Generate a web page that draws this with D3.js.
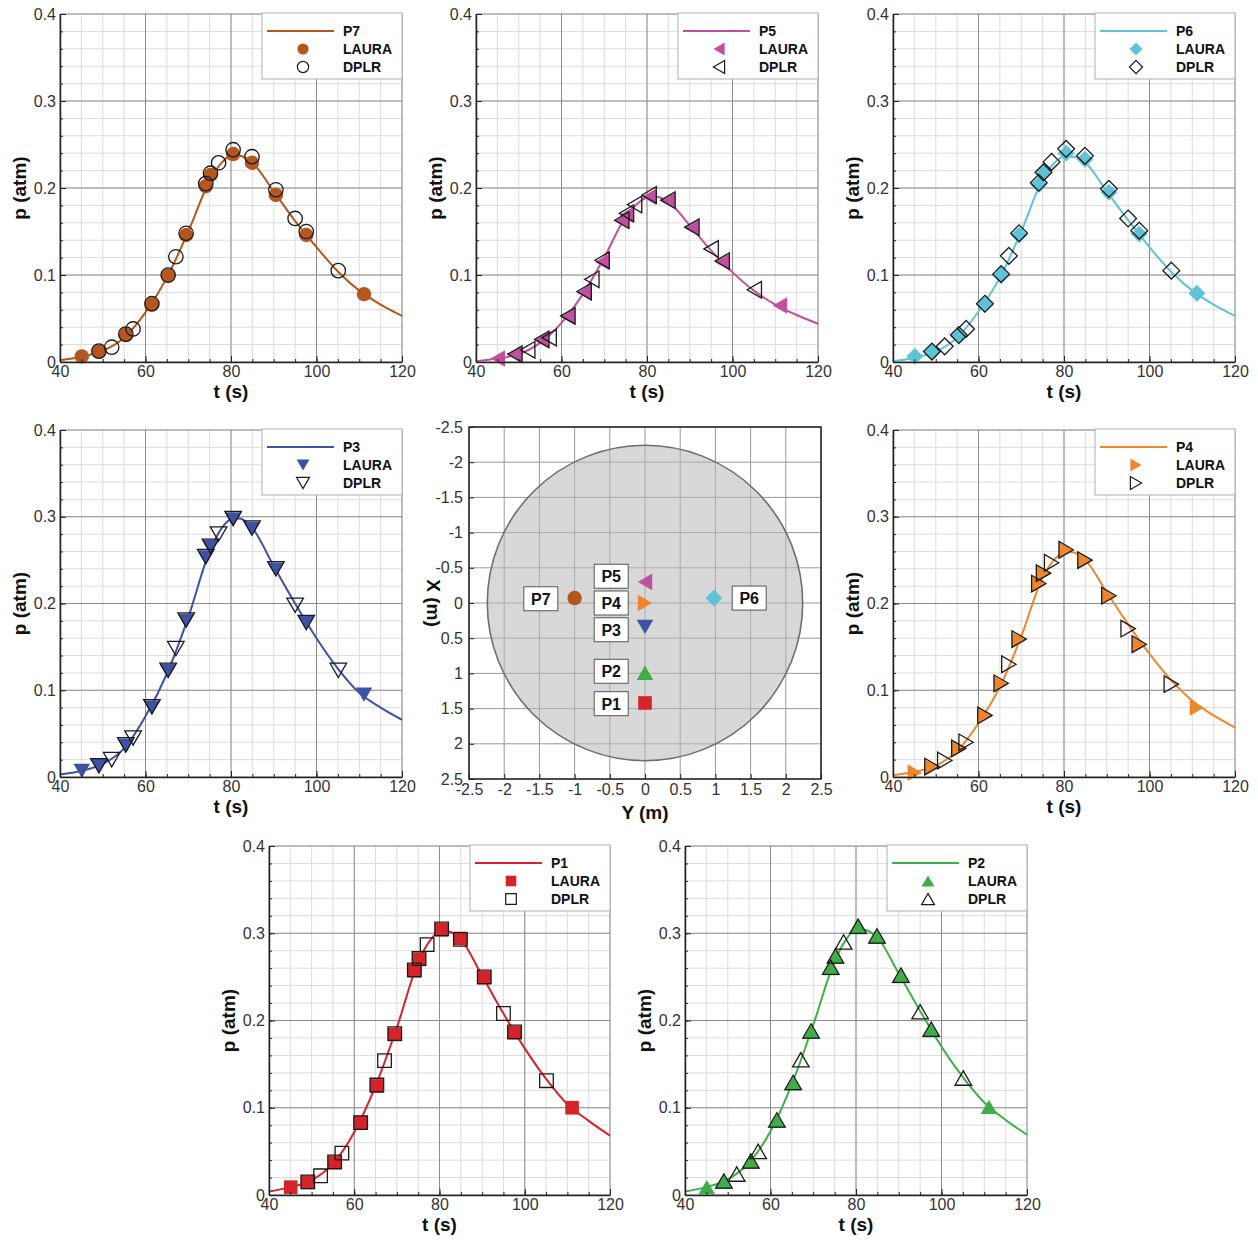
<!DOCTYPE html>
<html><head><meta charset="utf-8">
<script src="https://cdn.jsdelivr.net/npm/d3@7"></script>
<style>
body{margin:0;background:#fff;}
svg{display:block;font-family:"Liberation Sans",Arial,Helvetica,sans-serif;}
</style></head>
<body>
<svg id="chart" width="1258" height="1243"></svg>
<script>
// ---------------- DATA ----------------
const tTicks = [40, 60, 80, 100, 120];
const pTicks = [0, 0.1, 0.2, 0.3, 0.4];
const mapTicks = [-2.5, -2, -1.5, -1, -0.5, 0, 0.5, 1, 1.5, 2, 2.5];

const lineT = [40, 45, 50, 55, 60, 65, 70, 75, 78, 80, 82, 85, 90, 95, 100, 105, 110, 115, 120];
const lineP7 = [0.002, 0.006, 0.013, 0.028, 0.057, 0.097, 0.150, 0.208, 0.230, 0.237, 0.237, 0.229, 0.196, 0.162, 0.132, 0.104, 0.082, 0.066, 0.053];
const lineP5 = [0.001, 0.004, 0.009, 0.022, 0.045, 0.078, 0.120, 0.167, 0.183, 0.189, 0.190, 0.184, 0.157, 0.128, 0.103, 0.082, 0.066, 0.054, 0.044];
const lineP6 = [0.001, 0.005, 0.012, 0.028, 0.058, 0.097, 0.150, 0.210, 0.230, 0.236, 0.236, 0.229, 0.196, 0.163, 0.132, 0.104, 0.082, 0.066, 0.053];
const lineP3 = [0.003, 0.007, 0.015, 0.033, 0.070, 0.119, 0.184, 0.260, 0.288, 0.297, 0.298, 0.287, 0.243, 0.200, 0.160, 0.125, 0.097, 0.080, 0.066];
const lineP4 = [0.002, 0.006, 0.013, 0.030, 0.062, 0.104, 0.162, 0.230, 0.252, 0.259, 0.259, 0.250, 0.213, 0.176, 0.142, 0.112, 0.088, 0.071, 0.057];
const lineP1 = [0.004, 0.009, 0.017, 0.036, 0.072, 0.125, 0.192, 0.267, 0.293, 0.302, 0.302, 0.293, 0.251, 0.208, 0.168, 0.133, 0.104, 0.085, 0.068];
const lineP2 = [0.004, 0.009, 0.018, 0.037, 0.073, 0.127, 0.195, 0.268, 0.295, 0.305, 0.304, 0.295, 0.254, 0.211, 0.170, 0.135, 0.106, 0.086, 0.069];

const lauraT = [45.1, 49.1, 55.4, 61.5, 65.3, 69.5, 74.1, 75.2, 80.5, 84.9, 90.5, 97.6, 111.1];
const lauraP7 = [0.0065, 0.012, 0.031, 0.066, 0.099, 0.146, 0.202, 0.215, 0.239, 0.229, 0.192, 0.146, 0.078];
const lauraP5 = [0.004, 0.0085, 0.025, 0.052, 0.080, 0.115, 0.162, 0.169, 0.190, 0.185, 0.154, 0.115, 0.065];
const lauraP6 = [0.0065, 0.0115, 0.030, 0.066, 0.100, 0.146, 0.204, 0.217, 0.240, 0.233, 0.195, 0.147, 0.079];
const lauraP3 = [0.007, 0.013, 0.036, 0.080, 0.122, 0.180, 0.253, 0.265, 0.297, 0.286, 0.239, 0.178, 0.095];
const lauraP4 = [0.005, 0.011, 0.032, 0.070, 0.107, 0.158, 0.222, 0.234, 0.261, 0.249, 0.208, 0.152, 0.080];
const lauraP1 = [0.009, 0.0145, 0.037, 0.083, 0.125, 0.184, 0.257, 0.270, 0.304, 0.294, 0.249, 0.186, 0.100];
const lauraP2 = [0.009, 0.015, 0.038, 0.085, 0.128, 0.187, 0.260, 0.273, 0.307, 0.296, 0.251, 0.189, 0.101];

const dplrT = [49.1, 52.1, 55.4, 57.1, 61.5, 65.3, 67.1, 69.5, 74.1, 75.2, 77.1, 80.5, 84.9, 90.5, 95.0, 97.6, 105.1];
const dplrP7 = [0.0125, 0.017, 0.032, 0.038, 0.067, 0.100, 0.121, 0.148, 0.205, 0.217, 0.229, 0.244, 0.236, 0.198, 0.165, 0.150, 0.105];
const dplrP5 = [0.009, 0.014, 0.026, 0.028, 0.053, 0.081, 0.095, 0.117, 0.163, 0.171, 0.181, 0.192, 0.186, 0.155, 0.130, 0.116, 0.083];
const dplrP6 = [0.012, 0.018, 0.031, 0.038, 0.067, 0.101, 0.122, 0.148, 0.206, 0.218, 0.230, 0.245, 0.237, 0.199, 0.165, 0.151, 0.105];
const dplrP3 = [0.013, 0.020, 0.037, 0.045, 0.081, 0.123, 0.148, 0.181, 0.254, 0.266, 0.280, 0.298, 0.287, 0.240, 0.198, 0.178, 0.123];
const dplrP4 = [0.012, 0.019, 0.033, 0.040, 0.071, 0.108, 0.130, 0.159, 0.223, 0.235, 0.247, 0.262, 0.250, 0.209, 0.171, 0.153, 0.107];
const dplrP1 = [0.015, 0.022, 0.038, 0.048, 0.083, 0.126, 0.154, 0.185, 0.258, 0.271, 0.287, 0.305, 0.293, 0.250, 0.208, 0.187, 0.131];
const dplrP2 = [0.016, 0.024, 0.039, 0.050, 0.086, 0.129, 0.155, 0.188, 0.261, 0.274, 0.290, 0.308, 0.297, 0.252, 0.210, 0.190, 0.134];

// sensor map (data units, metres)
const sensorNames = ["P1", "P2", "P3", "P4", "P5", "P6", "P7"];
const sensorY = [0, 0, 0, 0, 0, 0.98, -1];
const sensorX = [1.42, 0.99, 0.34, 0, -0.30, -0.07, -0.07];
const labelY = [-0.48, -0.48, -0.48, -0.48, -0.48, 1.48, -1.48];
const labelX = [1.43, 0.97, 0.38, 0, -0.38, -0.07, -0.06];
const bodyRadius = 2.24;

// ---------------- STYLE / LAYOUT ----------------
const colors = {P1:"#d4232a", P2:"#3fae49", P3:"#3f51a3", P4:"#f0862a", P5:"#c0509f", P6:"#5ec3d6", P7:"#b5561f"};
const shapes = {P1:"square", P2:"triUp", P3:"triDown", P4:"triRight", P5:"triLeft", P6:"diamond", P7:"circle"};
const series = {
  P1:{line:lineP1, laura:lauraP1, dplr:dplrP1},
  P2:{line:lineP2, laura:lauraP2, dplr:dplrP2},
  P3:{line:lineP3, laura:lauraP3, dplr:dplrP3},
  P4:{line:lineP4, laura:lauraP4, dplr:dplrP4},
  P5:{line:lineP5, laura:lauraP5, dplr:dplrP5},
  P6:{line:lineP6, laura:lauraP6, dplr:dplrP6},
  P7:{line:lineP7, laura:lauraP7, dplr:dplrP7}
};
const panels = [
  {id:"P7", x0:60,  x1:402,  y0:14,  y1:362},
  {id:"P5", x0:476, x1:818,  y0:14,  y1:362},
  {id:"P6", x0:893, x1:1235, y0:14,  y1:362},
  {id:"P3", x0:60,  x1:402,  y0:430, y1:777},
  {id:"P4", x0:893, x1:1235, y0:430, y1:777},
  {id:"P1", x0:269, x1:610,  y0:846, y1:1195},
  {id:"P2", x0:685, x1:1027, y0:846, y1:1195}
];
const mapBox = {x0:469, x1:821, y0:427, y1:779};

function shapePath(type, s) {
  const a = 2.1 * s, h = a * 0.866;
  switch (type) {
    case "circle": return `M${-s},0A${s},${s} 0 1,0 ${s},0A${s},${s} 0 1,0 ${-s},0Z`;
    case "square": return `M${-s},${-s}H${s}V${s}H${-s}Z`;
    case "diamond": { const d = s * 1.2; return `M0,${-d}L${d},0L0,${d}L${-d},0Z`; }
    case "triUp": return `M0,${-h/2}L${a/2},${h/2}L${-a/2},${h/2}Z`;
    case "triDown": return `M0,${h/2}L${a/2},${-h/2}L${-a/2},${-h/2}Z`;
    case "triLeft": return `M${-h/2},0L${h/2},${-a/2}L${h/2},${a/2}Z`;
    case "triRight": return `M${h/2},0L${-h/2},${-a/2}L${-h/2},${a/2}Z`;
  }
}
function markerSize(type) {
  return ({circle:7.2, square:6.8, diamond:7.0, triUp:7.9, triDown:7.9, triLeft:7.9, triRight:7.9})[type];
}

const svg = d3.select("#chart");
const fmt = v => String(v);

// ---------------- TIME-SERIES PANELS ----------------
panels.forEach(pn => {
  const id = pn.id, col = colors[id], shp = shapes[id], d = series[id];
  const x = d3.scaleLinear().domain([40, 120]).range([pn.x0, pn.x1]);
  const y = d3.scaleLinear().domain([0, 0.4]).range([pn.y1, pn.y0]);
  const g = svg.append("g");

  const minorT = d3.range(40, 120.01, 5);
  const minorP = d3.range(0, 0.4001, 0.02);
  // minor grid
  g.append("g").selectAll("line.mx").data(minorT).join("line")
    .attr("x1", v => x(v)).attr("x2", v => x(v)).attr("y1", pn.y0).attr("y2", pn.y1)
    .attr("stroke", "#dcdcdc").attr("stroke-width", 1);
  g.append("g").selectAll("line.my").data(minorP).join("line")
    .attr("y1", v => y(v)).attr("y2", v => y(v)).attr("x1", pn.x0).attr("x2", pn.x1)
    .attr("stroke", "#dcdcdc").attr("stroke-width", 1);
  // major grid
  g.append("g").selectAll("line").data(tTicks).join("line")
    .attr("x1", v => x(v)).attr("x2", v => x(v)).attr("y1", pn.y0).attr("y2", pn.y1)
    .attr("stroke", "#8c8c8c").attr("stroke-width", 1);
  g.append("g").selectAll("line").data(pTicks).join("line")
    .attr("y1", v => y(v)).attr("y2", v => y(v)).attr("x1", pn.x0).attr("x2", pn.x1)
    .attr("stroke", "#8c8c8c").attr("stroke-width", 1);

  // curve
  const pts = lineT.map((t, i) => [t, d.line[i]]);
  g.append("path").datum(pts)
    .attr("d", d3.line().x(p => x(p[0])).y(p => y(p[1])).curve(d3.curveMonotoneX))
    .attr("fill", "none").attr("stroke", col).attr("stroke-width", 2);

  const ms = markerSize(shp);
  // LAURA filled markers
  g.append("g").selectAll("path").data(lauraT.map((t, i) => [t, d.laura[i]])).join("path")
    .attr("transform", p => `translate(${x(p[0])},${y(p[1])})`)
    .attr("d", shapePath(shp, ms)).attr("fill", col);
  // DPLR open markers
  g.append("g").selectAll("path").data(dplrT.map((t, i) => [t, d.dplr[i]])).join("path")
    .attr("transform", p => `translate(${x(p[0])},${y(p[1])})`)
    .attr("d", shapePath(shp, ms)).attr("fill", "none").attr("stroke", "#1a1a1a").attr("stroke-width", 1.3);

  // axes
  g.append("g").attr("transform", `translate(0,${pn.y1})`)
    .call(d3.axisBottom(x).tickValues(tTicks).tickFormat(fmt).tickSizeInner(-6).tickSizeOuter(0).tickPadding(4));
  g.append("g").attr("transform", `translate(0,${pn.y1})`)
    .call(d3.axisBottom(x).tickValues(minorT).tickFormat("").tickSizeInner(-3).tickSizeOuter(0))
    .select(".domain").remove();
  g.append("g").attr("transform", `translate(${pn.x0},0)`)
    .call(d3.axisLeft(y).tickValues(pTicks).tickFormat(fmt).tickSizeInner(-6).tickSizeOuter(0).tickPadding(4));
  g.append("g").attr("transform", `translate(${pn.x0},0)`)
    .call(d3.axisLeft(y).tickValues(minorP).tickFormat("").tickSizeInner(-3).tickSizeOuter(0))
    .select(".domain").remove();
  g.selectAll(".tick line").attr("stroke", "#222");
  g.selectAll(".domain").attr("stroke", "#222").attr("stroke-width", 1.5);
  g.selectAll(".tick text").attr("font-size", 16).attr("fill", "#333")
    .attr("font-family", '"Liberation Sans",Arial,sans-serif');

  // titles
  g.append("text").attr("x", (pn.x0 + pn.x1) / 2).attr("y", pn.y1 + 36)
    .attr("text-anchor", "middle").attr("font-size", 19).attr("font-weight", "bold").attr("fill", "#111")
    .text("t (s)");
  g.append("text").attr("transform", `translate(${pn.x0 - 34},${(pn.y0 + pn.y1) / 2}) rotate(-90)`)
    .attr("text-anchor", "middle").attr("font-size", 19).attr("font-weight", "bold").attr("fill", "#111")
    .text("p (atm)");

  // legend
  const lx = pn.x1 - 140, ly = pn.y0 - 1;
  const lg = g.append("g");
  lg.append("rect").attr("x", lx).attr("y", ly).attr("width", 140).attr("height", 66)
    .attr("fill", "#fff").attr("stroke", "#b0b0b0").attr("stroke-width", 1);
  const rows = [ly + 18, ly + 36, ly + 54];
  lg.append("line").attr("x1", lx + 5).attr("x2", lx + 72).attr("y1", rows[0]).attr("y2", rows[0])
    .attr("stroke", col).attr("stroke-width", 2);
  lg.append("path").attr("transform", `translate(${lx + 41},${rows[1]})`)
    .attr("d", shapePath(shp, ms * 0.78)).attr("fill", col);
  lg.append("path").attr("transform", `translate(${lx + 41},${rows[2]})`)
    .attr("d", shapePath(shp, ms * 0.78)).attr("fill", "none").attr("stroke", "#1a1a1a").attr("stroke-width", 1.2);
  [id, "LAURA", "DPLR"].forEach((txt, i) => {
    lg.append("text").attr("x", lx + 81).attr("y", rows[i] + 5)
      .attr("font-size", 14).attr("font-weight", "bold").attr("fill", "#111").text(txt);
  });
});

// ---------------- SENSOR MAP ----------------
(function () {
  const b = mapBox;
  const x = d3.scaleLinear().domain([-2.5, 2.5]).range([b.x0, b.x1]);
  const y = d3.scaleLinear().domain([-2.5, 2.5]).range([b.y0, b.y1]);
  const g = svg.append("g");
  g.append("rect").attr("x", b.x0).attr("y", b.y0).attr("width", b.x1 - b.x0).attr("height", b.y1 - b.y0)
    .attr("fill", "#fff");
  g.append("g").selectAll("line").data(mapTicks).join("line")
    .attr("x1", v => x(v)).attr("x2", v => x(v)).attr("y1", b.y0).attr("y2", b.y1)
    .attr("stroke", "#999").attr("stroke-width", 1);
  g.append("g").selectAll("line").data(mapTicks).join("line")
    .attr("y1", v => y(v)).attr("y2", v => y(v)).attr("x1", b.x0).attr("x2", b.x1)
    .attr("stroke", "#999").attr("stroke-width", 1);
  // vehicle body
  g.append("circle").attr("cx", x(0)).attr("cy", y(0)).attr("r", x(bodyRadius) - x(0))
    .attr("fill", "#b8b8b8").attr("fill-opacity", 0.55)
    .attr("stroke", "#6e6e6e").attr("stroke-width", 1.6);
  // frame
  g.append("rect").attr("x", b.x0).attr("y", b.y0).attr("width", b.x1 - b.x0).attr("height", b.y1 - b.y0)
    .attr("fill", "none").attr("stroke", "#222").attr("stroke-width", 1.5);

  // axes
  g.append("g").attr("transform", `translate(0,${b.y1})`)
    .call(d3.axisBottom(x).tickValues(mapTicks).tickFormat(fmt).tickSizeInner(-5).tickSizeOuter(0).tickPadding(5));
  g.append("g").attr("transform", `translate(${b.x0},0)`)
    .call(d3.axisLeft(y).tickValues(mapTicks).tickFormat(fmt).tickSizeInner(-5).tickSizeOuter(0).tickPadding(6));
  g.selectAll(".domain").remove();
  g.selectAll(".tick line").attr("stroke", "#222");
  g.selectAll(".tick text").attr("font-size", 16).attr("fill", "#333")
    .attr("font-family", '"Liberation Sans",Arial,sans-serif');
  g.append("text").attr("x", (b.x0 + b.x1) / 2).attr("y", b.y1 + 40)
    .attr("text-anchor", "middle").attr("font-size", 19).attr("font-weight", "bold").attr("fill", "#111")
    .text("Y (m)");
  g.append("text").attr("transform", `translate(${b.x0 - 42},${(b.y0 + b.y1) / 2}) rotate(90)`)
    .attr("text-anchor", "middle").attr("font-size", 19).attr("font-weight", "bold").attr("fill", "#111")
    .text("X (m)");

  // sensors
  sensorNames.forEach((nm, i) => {
    const shp = shapes[nm];
    g.append("path").attr("transform", `translate(${x(sensorY[i])},${y(sensorX[i])})`)
      .attr("d", shapePath(shp, markerSize(shp) * 1.0)).attr("fill", colors[nm]);
    const cx = x(labelY[i]), cy = y(labelX[i]);
    g.append("rect").attr("x", cx - 17).attr("y", cy - 12).attr("width", 34).attr("height", 24)
      .attr("fill", "#fff").attr("stroke", "#555").attr("stroke-width", 1);
    g.append("text").attr("x", cx).attr("y", cy + 6).attr("text-anchor", "middle")
      .attr("font-size", 16).attr("font-weight", "bold").attr("fill", "#111").text(nm);
  });
})();
</script>
</body></html>
